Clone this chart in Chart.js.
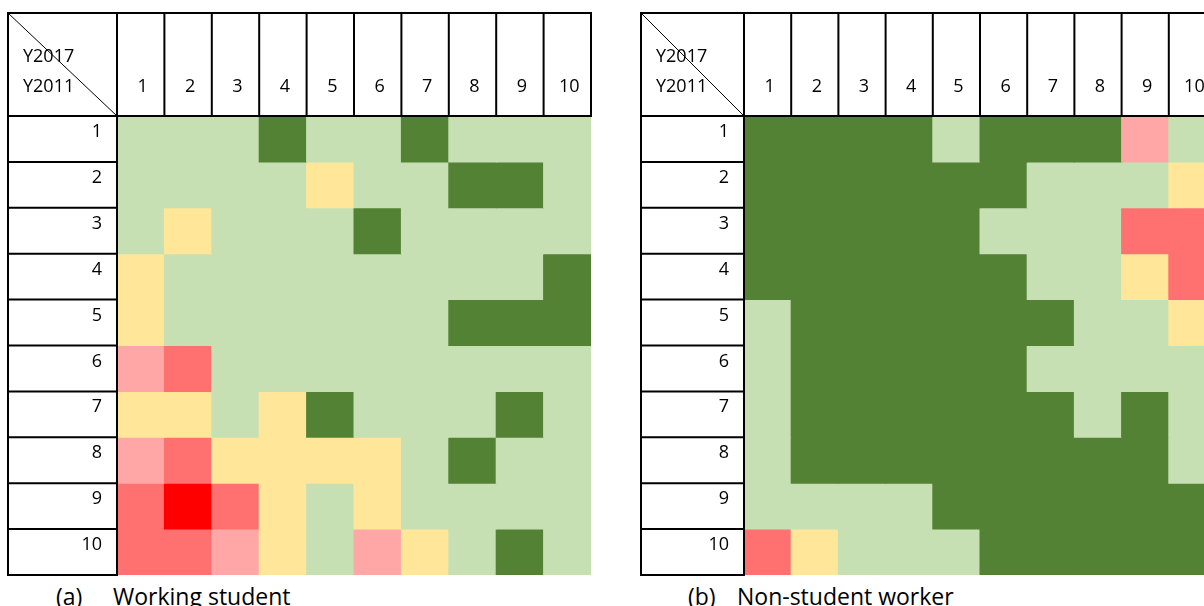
<!DOCTYPE html>
<html>
<head>
<meta charset="utf-8">
<script src="https://cdn.jsdelivr.net/npm/chart.js@4.4.1/dist/chart.umd.min.js"></script>
<style>
  html, body { margin: 0; padding: 0; background: #fff; overflow: hidden; width: 1204px; height: 606px; }
  .panel { position: absolute; top: 0; }
  .caption { position: absolute; top: 584px; font-family: "Open Sans", sans-serif; font-size: 23px; line-height: 24px; color: #000; white-space: nowrap; }
</style>
</head>
<body>
<div class="panel" style="left:0px"><canvas id="chartA" width="602" height="580"></canvas></div>
<div class="panel" style="left:602px"><canvas id="chartB" width="620" height="580"></canvas></div>
<div class="caption" style="left:56px">(a)</div>
<div class="caption" style="left:113px">Working student</div>
<div class="caption" style="left:688px">(b)</div>
<div class="caption" style="left:737px">Non-student worker</div>
<script>
// Quintiles in 2017 (columns) and 2011 (rows)
const colLabels = ['1', '2', '3', '4', '5', '6', '7', '8', '9', '10'];
const rowLabels = ['1', '2', '3', '4', '5', '6', '7', '8', '9', '10'];

// Cell level: 1 dark green, 2 light green, 3 yellow, 4 light red, 5 red, 6 deep red
const levelColors = ['', '#548235', '#C6E0B4', '#FFE699', '#FFA7A7', '#FF7171', '#FF0000'];

// (a) Working student, one array per 2011 row
const studentRow1  = [2, 2, 2, 1, 2, 2, 1, 2, 2, 2];
const studentRow2  = [2, 2, 2, 2, 3, 2, 2, 1, 1, 2];
const studentRow3  = [2, 3, 2, 2, 2, 1, 2, 2, 2, 2];
const studentRow4  = [3, 2, 2, 2, 2, 2, 2, 2, 2, 1];
const studentRow5  = [3, 2, 2, 2, 2, 2, 2, 1, 1, 1];
const studentRow6  = [4, 5, 2, 2, 2, 2, 2, 2, 2, 2];
const studentRow7  = [3, 3, 2, 3, 1, 2, 2, 2, 1, 2];
const studentRow8  = [4, 5, 3, 3, 3, 3, 2, 1, 2, 2];
const studentRow9  = [5, 6, 5, 3, 2, 3, 2, 2, 2, 2];
const studentRow10 = [5, 5, 4, 3, 2, 4, 3, 2, 1, 2];

// (b) Non-student worker, one array per 2011 row
const workerRow1  = [1, 1, 1, 1, 2, 1, 1, 1, 4, 2];
const workerRow2  = [1, 1, 1, 1, 1, 1, 2, 2, 2, 3];
const workerRow3  = [1, 1, 1, 1, 1, 2, 2, 2, 5, 5];
const workerRow4  = [1, 1, 1, 1, 1, 1, 2, 2, 3, 5];
const workerRow5  = [2, 1, 1, 1, 1, 1, 1, 2, 2, 3];
const workerRow6  = [2, 1, 1, 1, 1, 1, 2, 2, 2, 2];
const workerRow7  = [2, 1, 1, 1, 1, 1, 1, 2, 1, 2];
const workerRow8  = [2, 1, 1, 1, 1, 1, 1, 1, 1, 2];
const workerRow9  = [2, 2, 2, 2, 1, 1, 1, 1, 1, 1];
const workerRow10 = [5, 3, 2, 2, 2, 1, 1, 1, 1, 1];

const studentRows = [studentRow1, studentRow2, studentRow3, studentRow4, studentRow5,
                     studentRow6, studentRow7, studentRow8, studentRow9, studentRow10];
const workerRows = [workerRow1, workerRow2, workerRow3, workerRow4, workerRow5,
                    workerRow6, workerRow7, workerRow8, workerRow9, workerRow10];

const FONT = '18px "Open Sans", sans-serif';

// Table header: column header row, row header column, corner cell with diagonal
const tableHeader = {
  id: 'tableHeader',
  afterDraw(chart, args, opts) {
    const ctx = chart.ctx;
    const area = chart.chartArea;
    const xs = chart.scales.x;
    const ys = chart.scales.y;
    const left = area.left - opts.headerWidth;
    const top = opts.top;
    const n = colLabels.length;
    const half = (xs.getPixelForValue(1) - xs.getPixelForValue(0)) / 2;
    const colEdges = [];
    for (let i = 0; i < n; i++) colEdges.push(xs.getPixelForValue(i) - half);
    colEdges.push(xs.getPixelForValue(n - 1) + half);
    const rowEdges = [];
    for (let r = 0; r <= rowLabels.length; r++) rowEdges.push(ys.getPixelForValue(r));

    ctx.save();
    ctx.strokeStyle = '#000';
    ctx.lineWidth = 2;
    ctx.beginPath();
    // header row
    ctx.moveTo(left - 1, top); ctx.lineTo(colEdges[n] + 1, top);
    ctx.moveTo(left - 1, area.top); ctx.lineTo(colEdges[n] + 1, area.top);
    ctx.moveTo(left, top); ctx.lineTo(left, rowEdges[rowEdges.length - 1] + 1);
    colEdges.forEach(x => { ctx.moveTo(x, top); ctx.lineTo(x, area.top); });
    // row header column
    ctx.moveTo(area.left, area.top); ctx.lineTo(area.left, rowEdges[rowEdges.length - 1] + 1);
    rowEdges.forEach(y => { ctx.moveTo(left - 1, y); ctx.lineTo(area.left + 1, y); });
    ctx.stroke();

    // corner diagonal
    ctx.lineWidth = 1;
    ctx.beginPath();
    ctx.moveTo(left, top);
    ctx.lineTo(area.left, area.top);
    ctx.stroke();

    ctx.fillStyle = '#000';
    ctx.font = FONT;
    ctx.textBaseline = 'alphabetic';
    ctx.textAlign = 'left';
    ctx.fillText('Y2017', left + 15, top + 49);
    ctx.fillText('Y2011', left + 15, top + 79);

    ctx.textAlign = 'center';
    colLabels.forEach((lab, i) => {
      ctx.fillText(lab, xs.getPixelForValue(i) + 2, top + 79);
    });
    ctx.textAlign = 'right';
    rowLabels.forEach((lab, r) => {
      ctx.fillText(lab, area.left - 15, rowEdges[r] + 21);
    });
    ctx.restore();
  }
};

function makeHeatmap(canvasId, rows, padding, headerWidth) {
  const datasets = rows.map((levels, r) => ({
    label: rowLabels[r],
    data: colLabels.map(() => [r, r + 1]),
    backgroundColor: levels.map(v => levelColors[v]),
    borderWidth: 0,
    grouped: false,
    barPercentage: 1,
    categoryPercentage: 1,
    inflateAmount: 0.5
  }));
  return new Chart(document.getElementById(canvasId), {
    type: 'bar',
    data: { labels: colLabels, datasets },
    options: {
      responsive: false,
      devicePixelRatio: 1,
      animation: false,
      layout: { padding },
      scales: {
        x: { type: 'category', display: false, offset: true },
        y: { type: 'linear', display: false, min: 0, max: 10, reverse: true }
      },
      plugins: {
        legend: { display: false },
        tooltip: { enabled: false },
        tableHeader: { headerWidth, top: 13 }
      }
    },
    plugins: [tableHeader]
  });
}

makeHeatmap('chartA', studentRows, { left: 117, top: 116, right: 11, bottom: 5 }, 109);
makeHeatmap('chartB', workerRows, { left: 142, top: 116, right: 6, bottom: 5 }, 103);
</script>
</body>
</html>
